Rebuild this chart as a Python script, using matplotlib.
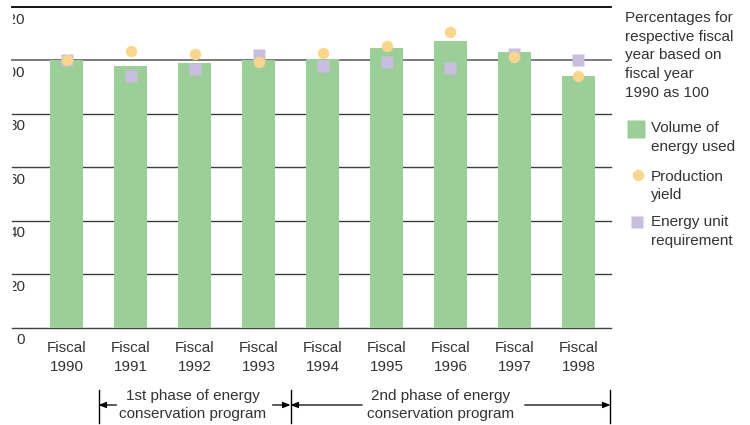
import matplotlib.pyplot as plt
import matplotlib.transforms as mtransforms

years = ["1990", "1991", "1992", "1993", "1994", "1995", "1996", "1997", "1998"]
energy_used = [100.0, 98.0, 99.0, 100.3, 100.6, 104.7, 107.4, 103.2, 94.3]
production_yield = [100.0, 103.7, 102.5, 99.4, 102.7, 105.4, 110.6, 101.2, 94.3]
unit_requirement = [100.0, 94.3, 96.9, 102.0, 98.0, 99.5, 97.3, 102.4, 100.0]
y_ticks = [0, 20, 40, 60, 80, 100, 120]

GREEN = "#9ccf98"
YELLOW = "#f9d68c"
PURPLE = "#c9bedd"
TEXT = "#333333"
plt.rcParams["font.family"] = ["Liberation Sans", "DejaVu Sans"]

W, H = 750, 425
fig = plt.figure(figsize=(7.5, 4.25), dpi=100)
ax = fig.add_axes([12 / W, 97.5 / H, 599 / W, 320.5 / H])

x = list(range(len(years)))

# y labels are cut at the left margin of the frame
label_clip = mtransforms.TransformedBbox(
    mtransforms.Bbox([[13 / W, 0], [1, 1]]), fig.transFigure)

# horizontal guide lines behind the bars
for t in y_ticks:
    if t == 120:
        color, lw = "black", 1.3
    elif t == 100:
        color, lw = "#707070", 1.3
    else:
        color, lw = "#404040", 1.0
    ax.axhline(t, color=color, lw=lw, zorder=0, clip_on=False)
    lbl = ax.text(0.022, t - 4.7, str(t), transform=ax.get_yaxis_transform(),
                  ha="right", va="center", fontsize=11, color=TEXT,
                  clip_on=True)
    lbl.set_clip_box(label_clip)

ax.bar(x, energy_used, width=0.52, color=GREEN, zorder=2)
ax.plot(x, unit_requirement, ls="none", marker="s", ms=8, color=PURPLE,
        mec="none", zorder=3)
ax.plot(x, production_yield, ls="none", marker="o", ms=8.2, color=YELLOW,
        mec="none", zorder=4)

ax.set_xlim(-0.852, 8.508)
ax.set_ylim(0, 120)
ax.set_yticks([])
ax.set_xticks(x)
ax.set_xticklabels(["Fiscal\n" + y for y in years], fontsize=11, color=TEXT,
                   linespacing=1.4)
ax.tick_params(axis="x", length=0, pad=10)
for s in ax.spines.values():
    s.set_visible(False)

# program phase brackets under the year labels
trans = mtransforms.blended_transform_factory(ax.transData, fig.transFigure)
y_arrow = 1 - 405 / H
for xv in (0.5, 3.5, 8.5):
    ax.plot([xv, xv], [1 - 390 / H, 1 - 423 / H], color="black", lw=1,
            transform=trans, clip_on=False)

arrow = dict(arrowstyle="-|>,head_length=0.45,head_width=0.18",
             color="black", lw=0.9, shrinkA=0, shrinkB=0)
for start, end in [(0.78, 0.5), (3.22, 3.5), (4.62, 3.5), (7.16, 8.5)]:
    ax.annotate("", xy=(end, y_arrow), xytext=(start, y_arrow),
                xycoords=trans, textcoords=trans, arrowprops=arrow,
                annotation_clip=False)

ax.text(1.97, 1 - 405 / H, "1st phase of energy\nconservation program",
        transform=trans, ha="center", va="center", fontsize=11, color=TEXT,
        linespacing=1.35)
ax.text(5.85, 1 - 405 / H, "2nd phase of energy\nconservation program",
        transform=trans, ha="center", va="center", fontsize=11, color=TEXT,
        linespacing=1.35)

# legend on the right
fig.text(625 / W, 1 - 55.5 / H,
         "Percentages for\nrespective fiscal\nyear based on\nfiscal year\n1990 as 100",
         ha="left", va="center", fontsize=11, color=TEXT, linespacing=1.41)

ax.plot([635.5 / W], [1 - 129 / H], marker="s", ms=12.5, color=GREEN,
        mec="none", ls="none", transform=fig.transFigure, clip_on=False)
ax.plot([637.5 / W], [1 - 175 / H], marker="o", ms=8.2, color=YELLOW,
        mec="none", ls="none", transform=fig.transFigure, clip_on=False)
ax.plot([637 / W], [1 - 222 / H], marker="s", ms=8, color=PURPLE,
        mec="none", ls="none", transform=fig.transFigure, clip_on=False)

legend_labels = [("Volume of\nenergy used", 137.5),
                 ("Production\nyield", 186),
                 ("Energy unit\nrequirement", 231.5)]
for label, yc in legend_labels:
    fig.text(651 / W, 1 - yc / H, label, ha="left", va="center", fontsize=11,
             color=TEXT, linespacing=1.41)

fig.savefig("out.png", dpi=100)
